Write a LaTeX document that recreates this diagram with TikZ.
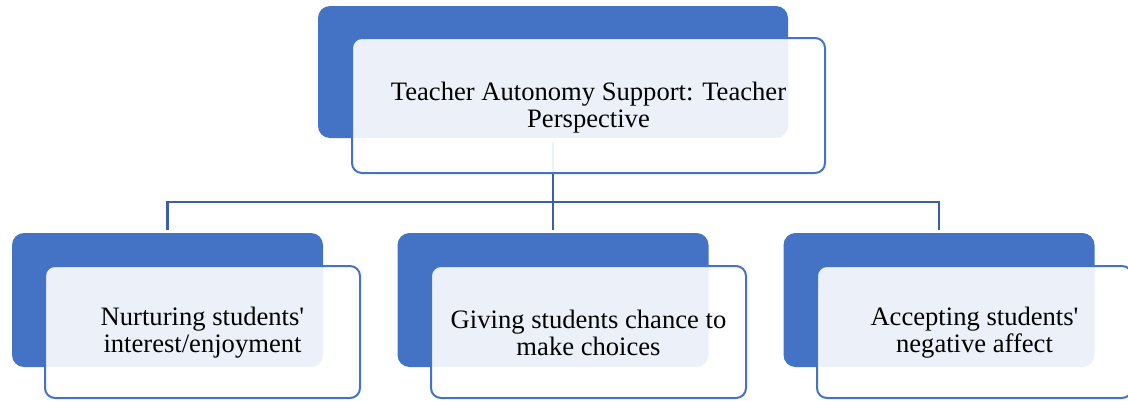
\documentclass[tikz,border=0pt]{standalone}
\usepackage{fontspec}
\setmainfont{Liberation Serif}
\definecolor{accent}{HTML}{4472C4}
\definecolor{linkblue}{HTML}{3A5FA6}
\begin{document}
\begin{tikzpicture}[x=1pt,y=-1pt,
  backbox/.style={rectangle, rounded corners=12pt, fill=accent, draw=none,
    inner sep=0pt, minimum width=#1},
  frontbox/.style={rectangle, rounded corners=10pt, draw=accent, line width=2pt,
    fill=white, fill opacity=0.9, inner sep=0pt, minimum width=#1},
  boxtext/.style={align=center, text=black, inner sep=0pt,
    font=\fontsize{26.6}{27}\selectfont},
  conn/.style={draw=linkblue, line width=2.4pt}]
  \useasboundingbox (0,0) rectangle (1128,400);

  % back panels
  \node[backbox=470pt, minimum height=132pt] (tb) at (553,72) {};
  \node[backbox=311pt, minimum height=134pt] (b1) at (167.5,300) {};
  \node[backbox=311pt, minimum height=134pt] (b2) at (553,300) {};
  \node[backbox=311pt, minimum height=134pt] (b3) at (939,300) {};

  % tree connectors
  \coordinate (hub) at (553,202);
  \draw[conn] ([yshift=-4pt]tb.south) -- (hub);
  \draw[conn] (hub) -| ([yshift=3pt]b1.north);
  \draw[conn] (hub) -- ([yshift=3pt]b2.north);
  \draw[conn] (hub) -| ([yshift=3pt]b3.north);

  % front panels
  \node[frontbox=473pt, minimum height=135pt] (tf) at (588.5,105.5) {};
  \node[frontbox=315pt, minimum height=132pt] (f1) at (202.5,332) {};
  \node[frontbox=315pt, minimum height=132pt] (f2) at (588.5,332) {};
  \node[frontbox=315pt, minimum height=132pt] (f3) at (974.5,332) {};

  % labels
  \node[boxtext] (tt) at ([yshift=-2pt]tf.center)
    {Teacher Autonomy Support: Teacher\\Perspective};
  \node[boxtext] (t1) at ([yshift=-1pt]f1.center)
    {Nurturing students\textquotesingle\\interest/enjoyment};
  \node[boxtext] (t2) at ([yshift=-1pt]f2.center)
    {Giving students chance to\\make choices};
  \node[boxtext] (t3) at ([yshift=-1pt]f3.center)
    {Accepting students\textquotesingle\\negative affect};
\end{tikzpicture}
\end{document}
